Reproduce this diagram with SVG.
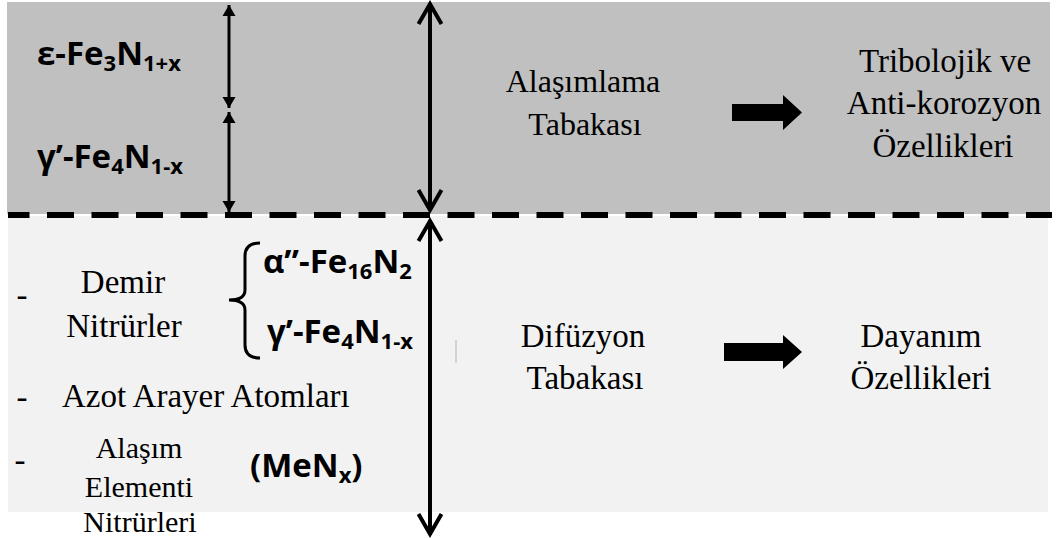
<svg xmlns="http://www.w3.org/2000/svg" width="1062" height="538" viewBox="0 0 1062 538">
  <style>
    .serif { font-family: "Liberation Serif", "Times New Roman", serif; font-size: 33px; fill: #000; }
    .serif.sm { font-size: 30px; }
    .serif.md { font-size: 32px; }
    .chem { font-family: "Open Sans", "Liberation Sans", sans-serif; font-weight: 700; font-size: 33px; fill: #000; }
    .sub { font-size: 22px; }
    .mid { text-anchor: middle; }
    .thin { stroke: #000; stroke-width: 3; fill: none; }
    .thick { stroke: #000; stroke-width: 4; fill: none; }
    .block { fill: #000; }
  </style>
  <defs>
    <marker id="small" viewBox="-12 -8 14 16" refX="0" refY="0" markerWidth="14" markerHeight="16" markerUnits="userSpaceOnUse" orient="auto-start-reverse">
      <path d="M -11 -6.5 L 0 0 L -11 6.5 Z" fill="#000"/>
    </marker>
    <marker id="big" viewBox="-24 -15 28 30" refX="0" refY="0" markerWidth="28" markerHeight="30" markerUnits="userSpaceOnUse" orient="auto-start-reverse" overflow="visible">
      <path d="M -20 -11.5 L 0 0 L -20 11.5" fill="none" stroke="#000" stroke-width="4" stroke-linejoin="miter"/>
    </marker>
  </defs>

  <rect width="1062" height="538" fill="#ffffff"/>
  <g id="layers">
    <rect id="alasimlama-layer" x="7" y="2" width="1043" height="212" fill="#c0c0c0"/>
    <rect id="difuzyon-layer" x="8" y="216" width="1040" height="296" fill="#f2f2f2"/>
  </g>

  <g id="separator">
    <line x1="8" y1="215" x2="1052" y2="215" stroke="#000" stroke-width="6" stroke-dasharray="27 17.5" stroke-dashoffset="5.5"/>
  </g>

  <g id="connectors">
    <line class="thin" x1="229" y1="5" x2="229" y2="108" marker-start="url(#small)" marker-end="url(#small)"/>
    <line class="thin" x1="229" y1="112" x2="229" y2="212" marker-start="url(#small)" marker-end="url(#small)"/>
    <line class="thick" x1="430" y1="4" x2="430" y2="210" marker-start="url(#big)" marker-end="url(#big)"/>
    <line class="thick" x1="430" y1="221" x2="430" y2="534" marker-start="url(#big)" marker-end="url(#big)"/>
    <polygon class="block" points="732,104 783,104 783,95 802,112.5 783,130 783,121 732,121"/>
    <polygon class="block" points="724,343 783,343 783,335 802,352 783,369 783,361 724,361"/>
    <path class="thin" d="M 260 243 Q 245 243 245 256 L 245 290 Q 245 300 229 300 Q 245 300 245 310 L 245 345 Q 245 358 260 358"/>
    <line x1="456" y1="340" x2="456" y2="363" stroke="#c8c8c8" stroke-width="1.5"/>
  </g>

  <g id="eps-fe3n">
    <text class="chem" x="37" y="65">ε-Fe<tspan class="sub" dy="6">3</tspan><tspan dy="-6">N</tspan><tspan class="sub" dy="6">1+x</tspan></text>
  </g>
  <g id="gamma-fe4n-top">
    <text class="chem" x="37" y="168">γ’-Fe<tspan class="sub" dy="6">4</tspan><tspan dy="-6">N</tspan><tspan class="sub" dy="6">1-x</tspan></text>
  </g>
  <g id="alasimlama">
    <text class="serif md mid" x="583" y="92">Alaşımlama</text>
    <text class="serif md mid" x="585" y="135">Tabakası</text>
  </g>
  <g id="tribolojik">
    <text class="serif mid" x="945" y="72">Tribolojik ve</text>
    <text class="serif mid" x="944" y="114">Anti-korozyon</text>
    <text class="serif mid" x="943" y="157">Özellikleri</text>
  </g>

  <g id="demir-nitrurler">
    <text class="serif mid" x="22" y="306">-</text>
    <text class="serif mid" x="123" y="293">Demir</text>
    <text class="serif mid" x="124" y="337">Nitrürler</text>
  </g>
  <g id="alpha-fe16n2">
    <text class="chem" x="263" y="273">α”-Fe<tspan class="sub" dy="6">16</tspan><tspan dy="-6">N</tspan><tspan class="sub" dy="6">2</tspan></text>
  </g>
  <g id="gamma-fe4n-bottom">
    <text class="chem" x="267" y="343">γ’-Fe<tspan class="sub" dy="6">4</tspan><tspan dy="-6">N</tspan><tspan class="sub" dy="6">1-x</tspan></text>
  </g>
  <g id="azot">
    <text class="serif mid" x="22" y="408">-</text>
    <text class="serif" x="62" y="407">Azot Arayer Atomları</text>
  </g>
  <g id="alasim-nitrurleri">
    <text class="serif mid" x="20" y="471">-</text>
    <text class="serif sm mid" x="139" y="458">Alaşım</text>
    <text class="serif sm mid" x="139" y="497">Elementi</text>
    <text class="serif sm mid" x="140" y="532">Nitrürleri</text>
  </g>
  <g id="menx">
    <text class="chem" x="250" y="477">(MeN<tspan class="sub" dy="6">x</tspan><tspan dy="-6">)</tspan></text>
  </g>
  <g id="difuzyon">
    <text class="serif mid" x="583" y="347">Difüzyon</text>
    <text class="serif mid" x="585" y="389">Tabakası</text>
  </g>
  <g id="dayanim">
    <text class="serif mid" x="921" y="347">Dayanım</text>
    <text class="serif mid" x="921" y="389">Özellikleri</text>
  </g>
</svg>
